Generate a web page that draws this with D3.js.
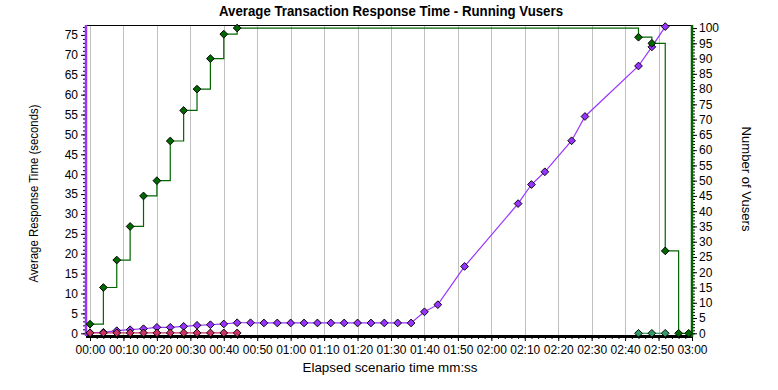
<!DOCTYPE html>
<html><head><meta charset="utf-8">
<script src="https://cdn.jsdelivr.net/npm/d3@7"></script>
<style>
html,body{margin:0;padding:0;background:#fff;}
svg{display:block;}
text{font-family:"Liberation Sans",Arial,sans-serif;}
</style></head>
<body>
<svg id="chart" width="778" height="390"></svg>
<script>
// ---- data ----
const xTicks = [0,10,20,30,40,50,60,70,80,90,100,110,120,130,140,150,160,170,180];
const leftTicks = [0,5,10,15,20,25,30,35,40,45,50,55,60,65,70,75];
const rightTicks = [0,5,10,15,20,25,30,35,40,45,50,55,60,65,70,75,80,85,90,95,100];

// Average response time (seconds) - purple transaction
const tPurple = [0,4,8,12,16,20,24,28,32,36,40,44,48,52,56,60,64,68,72,76,80,84,88,92,96,100,104,112,128,132,136,144,148,164,168,172];
const vPurple = [0.15,0.25,0.65,0.9,1.15,1.5,1.5,1.75,2.0,2.15,2.35,2.65,2.65,2.6,2.6,2.6,2.6,2.6,2.6,2.6,2.6,2.6,2.6,2.6,2.6,5.4,7.2,16.8,32.6,37.4,40.6,48.4,54.5,67.2,72.0,77.1];

// second transaction (red)
const tRed = [0,4,8,12,16,20,24,28,32,36,40,44];
const vRed = [0.1,0.1,0.1,0.1,0.1,0.1,0.1,0.1,0.1,0.1,0.1,0.1];

// third transaction (teal)
const tTeal = [164,168,172];
const vTeal = [0,0,0];

// Running Vusers (right axis)
const tUsers = [0,4,8,12,16,20,24,28,32,36,40,44,164,168,172,176,179];
const vUsers = [3,15,24,35,45,50,63,73,80,90,98,100,97,95,27,0,0];

// ---- layout ----
const W = 778, H = 390;
const L = 86, R = 692, T = 25, B = 336;
const svg = d3.select("#chart");

const x = d3.scaleLinear().domain([0,180]).range([90, 692]);
const yL = d3.scaleLinear().domain([0,77.5]).range([333.3, 25]);
const yR = d3.scaleLinear().domain([0,101]).range([333.3, 25]);

const fmt = s => { const m = Math.floor(s/60), ss = s%60; return String(m).padStart(2,"0")+":"+String(ss).padStart(2,"0"); };

// gridlines
svg.append("g").selectAll("line").data(xTicks.filter(d=>d<180)).join("line")
  .attr("x1", d=>Math.round(x(d))+0.5).attr("x2", d=>Math.round(x(d))+0.5)
  .attr("y1", T).attr("y2", B)
  .attr("stroke", "#c0c0c0").attr("stroke-width", 1);

// top border
svg.append("line").attr("x1", L).attr("x2", R).attr("y1", T+0.5).attr("y2", T+0.5)
  .attr("stroke", "#000").attr("stroke-width", 1);

// bottom axis
const xMinor = d3.range(0, 181, 2);
const gx = svg.append("g").attr("transform", `translate(0,${B})`);
gx.call(d3.axisBottom(x).tickValues(xMinor).tickSize(3).tickFormat(""));
gx.call(g=>g.select(".domain").remove());
const gx2 = svg.append("g").attr("transform", `translate(0,${B})`);
gx2.call(d3.axisBottom(x).tickValues(xTicks).tickSize(5).tickPadding(4).tickFormat(fmt));
gx2.select(".domain").remove();
gx2.selectAll("text").attr("font-size", 12).attr("font-family", '"Liberation Sans",Arial,sans-serif').attr("fill","#000");
svg.selectAll(".tick line").attr("stroke", "#000");

// left axis
const gl = svg.append("g").attr("transform", `translate(${L},0)`);
gl.call(d3.axisLeft(yL).tickValues(d3.range(0, 78, 1)).tickSize(3).tickFormat(""));
gl.select(".domain").remove();
const gl2 = svg.append("g").attr("transform", `translate(${L},0)`);
gl2.call(d3.axisLeft(yL).tickValues(leftTicks).tickSize(5).tickPadding(3));
gl2.select(".domain").remove();
gl2.selectAll("text").attr("font-size", 12).attr("font-family", '"Liberation Sans",Arial,sans-serif').attr("fill","#000");

// right axis
const gr = svg.append("g").attr("transform", `translate(${R},0)`);
gr.call(d3.axisRight(yR).tickValues(d3.range(0, 101, 1)).tickSize(3).tickFormat(""));
gr.select(".domain").remove();
const gr2 = svg.append("g").attr("transform", `translate(${R},0)`);
gr2.call(d3.axisRight(yR).tickValues(rightTicks).tickSize(5).tickPadding(2));
gr2.select(".domain").remove();
gr2.selectAll("text").attr("font-size", 12).attr("font-family", '"Liberation Sans",Arial,sans-serif').attr("fill","#000");
svg.selectAll(".tick line").attr("stroke", "#000");

// axis lines
svg.append("line").attr("x1", L).attr("x2", R).attr("y1", B+0.5).attr("y2", B+0.5)
  .attr("stroke", "#000").attr("stroke-width", 3);
svg.append("line").attr("x1", L).attr("x2", L).attr("y1", T).attr("y2", B)
  .attr("stroke", "#9933ff").attr("stroke-width", 2.5);
svg.append("line").attr("x1", R).attr("x2", R).attr("y1", T).attr("y2", B+1)
  .attr("stroke", "#006600").attr("stroke-width", 2.5);

// series
function series(ts, vs, yScale, color, curve, stroke) {
  const data = ts.map((t,i)=>({t, v: vs[i]}));
  const line = d3.line().x(d=>x(d.t)).y(d=>yScale(d.v)).curve(curve);
  svg.append("path").datum(data).attr("d", line)
    .attr("fill", "none").attr("stroke", stroke || color).attr("stroke-width", 1.2);
  svg.append("g").selectAll("path").data(data).join("path")
    .attr("d", d3.symbol(d3.symbolSquare, 30))
    .attr("transform", d=>`translate(${x(d.t)},${yScale(d.v)}) rotate(45)`)
    .attr("fill", color).attr("stroke", "#000").attr("stroke-width", 0.9);
}
series(tPurple, vPurple, yL, "#9933ff", d3.curveLinear);
series(tRed, vRed, yL, "#cc3366", d3.curveLinear);
series(tTeal, vTeal, yL, "#339966", d3.curveLinear);
series(tUsers, vUsers, yR, "#006600", d3.curveStepAfter);

// titles
svg.append("text").attr("x", 391).attr("y", 16).attr("text-anchor", "middle")
  .attr("font-family", '"Liberation Sans Narrow","DejaVu Sans Condensed","Liberation Sans",Arial,sans-serif')
  .attr("font-weight", "bold").attr("font-size", 15)
  .attr("textLength", 344).attr("lengthAdjust", "spacingAndGlyphs")
  .text("Average Transaction Response Time - Running Vusers");

svg.append("text").attr("x", 390).attr("y", 372).attr("text-anchor", "middle")
  .attr("font-size", 13.5).attr("textLength", 175).attr("lengthAdjust", "spacingAndGlyphs")
  .text("Elapsed scenario time mm:ss");

svg.append("text").attr("transform", "translate(38,193.5) rotate(-90)").attr("text-anchor", "middle")
  .attr("font-size", 13).attr("textLength", 178).attr("lengthAdjust", "spacingAndGlyphs")
  .text("Average Response Time (seconds)");

svg.append("text").attr("transform", "translate(742,179) rotate(90)").attr("text-anchor", "middle")
  .attr("font-size", 13).attr("textLength", 105).attr("lengthAdjust", "spacingAndGlyphs")
  .text("Number of Vusers");
</script>
</body></html>
